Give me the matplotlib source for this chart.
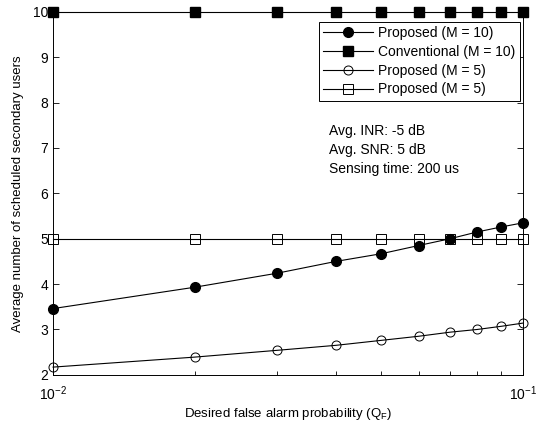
import numpy as np
import matplotlib.pyplot as plt
from matplotlib.ticker import LogLocator, NullFormatter

plt.rcParams['font.family'] = ['Liberation Sans', 'DejaVu Sans']

qf = [0.01, 0.02, 0.03, 0.04, 0.05, 0.06, 0.07, 0.08, 0.09, 0.1]
prop_m10 = [3.46, 3.93, 4.24, 4.50, 4.67, 4.85, 5.00, 5.15, 5.26, 5.35]
conv_m10 = [10, 10, 10, 10, 10, 10, 10, 10, 10, 10]
prop_m5 = [2.17, 2.39, 2.54, 2.65, 2.76, 2.85, 2.94, 3.00, 3.07, 3.14]
conv_m5 = [5, 5, 5, 5, 5, 5, 5, 5, 5, 5]

fig = plt.figure(figsize=(5.47, 4.24), dpi=100)
ax = fig.add_axes([0.097, 0.116, 0.859, 0.856])

lw = 0.8
ax.plot(qf, prop_m10, 'k-', marker='o', ms=7, mfc='k', lw=lw, label='Proposed (M = 10)', clip_on=False)
ax.plot(qf, conv_m10, 'k-', marker='s', ms=6.5, mfc='k', lw=lw, label='Conventional (M = 10)', clip_on=False)
ax.plot(qf, prop_m5, 'k-', marker='o', ms=6.5, mfc='none', mew=0.7, lw=lw, label='Proposed (M = 5)', clip_on=False)
ax.plot(qf, conv_m5, 'k-', marker='s', ms=6.5, mfc='none', mew=0.7, lw=lw, label='Proposed (M = 5)', clip_on=False)

ax.set_xscale('log')
ax.set_xlim(0.01, 0.1)
ax.set_ylim(2, 10)
ax.set_yticks(range(2, 11))
ax.xaxis.set_major_locator(LogLocator(base=10, numticks=5))
ax.xaxis.set_minor_locator(LogLocator(base=10, subs=np.arange(2, 10), numticks=10))
ax.xaxis.set_minor_formatter(NullFormatter())
ax.tick_params(which='both', direction='in', top=True, right=True, labelsize=10, width=0.6)
ax.tick_params(which='major', length=4)
ax.tick_params(which='minor', length=3)
ax.tick_params(axis='x', pad=7)
for s in ax.spines.values():
    s.set_linewidth(0.7)

ax.set_xlabel('Desired false alarm probability (Q$_\\mathregular{F}$)', fontsize=9.5, labelpad=2)
ax.set_ylabel('Average number of scheduled secondary users', fontsize=9.5, labelpad=6)

leg = ax.legend(loc='upper right', bbox_to_anchor=(0.993, 0.973), fontsize=10, fancybox=False,
                edgecolor='k', framealpha=1, handlelength=3.6, borderpad=0.3, labelspacing=0.35,
                handletextpad=0.4, borderaxespad=0)
leg.get_frame().set_linewidth(0.7)

ax.text(0.587, 0.69, 'Avg. INR: -5 dB\nAvg. SNR: 5 dB\nSensing time: 200 us',
        transform=ax.transAxes, fontsize=10, va='top', ha='left', linespacing=1.45)

fig.savefig('out.png', dpi=100)
